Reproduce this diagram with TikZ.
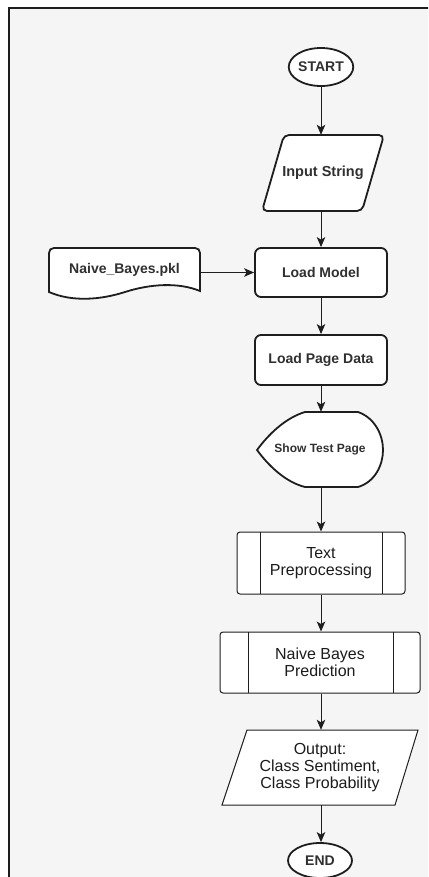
\documentclass[tikz,border=0pt]{standalone}
\usepackage{fontspec}
\setmainfont{Liberation Sans}
\usetikzlibrary{shapes.geometric,arrows.meta,calc}
\definecolor{ink}{HTML}{1E1E1E}
\definecolor{txt}{HTML}{303030}
\definecolor{txtdark}{HTML}{1C1C1C}
\definecolor{paper}{HTML}{F5F5F5}
\begin{document}
\begin{tikzpicture}[x=1pt,y=-1pt,
  heavy/.style={draw=ink, line width=1.8pt, fill=white},
  light/.style={draw=ink, line width=1pt, fill=white},
  lbl/.style={text=txt, font=\fontsize{14}{16.8}\selectfont\bfseries, align=center, inner sep=0pt},
  lbltwo/.style={text=txtdark, font=\fontsize{16}{17}\selectfont, align=center, inner sep=0pt},
  flow/.style={draw=ink, line width=1pt, -{Stealth[length=10pt,width=8.5pt,inset=2.5pt]}}]
\useasboundingbox (0,0) rectangle (428,877);
\clip (0,0) rectangle (428,877);
\fill[white] (0,0) rectangle (428,877);
% page frame
\draw[ink, line width=2pt, fill=paper] (9,8) rectangle (445,895);

% START terminator
\node[ellipse, heavy, lbl, minimum width=64pt, minimum height=38pt] (start) at (321,67) {START};

% Input String (data)
\draw[heavy, rounded corners=5pt] (334,135) -- (384,135) -- (362,211) -- (262,211) -- (284,135) -- cycle;
\node[lbl, font=\fontsize{14.5}{17}\selectfont\bfseries, minimum width=122pt, minimum height=76pt] (input) at (323,173) {Input String};

% stored model file (document)
\draw[heavy] (49,292) -- (49,253) .. controls (49,250) and (51,248) .. (54,248)
  -- (195,248) .. controls (198,248) and (200,250) .. (200,253) -- (200,291)
  .. controls (178,282) and (150,284) .. (125,292)
  .. controls (100,300) and (72,302) .. (49,292) -- cycle;
\node[lbl, minimum width=151pt, minimum height=44pt] (pkl) at (124.5,270) {Naive\_Bayes.pkl};

% process steps
\node[heavy, rounded corners=6pt, lbl, minimum width=132pt, minimum height=49pt] (model) at (321,272.5) {Load Model};
\node[heavy, rounded corners=6pt, lbl, minimum width=132pt, minimum height=50pt] (page) at (321,360) {Load Page Data};

% Show Test Page (display)
\draw[heavy] (305,412) -- (358,412)
  .. controls (375,418) and (383,435) .. (383,450)
  .. controls (383,465) and (375,482) .. (358,487)
  -- (305,487)
  .. controls (285,482) and (268,465) .. (257,450)
  .. controls (268,435) and (285,418) .. (305,412) -- cycle;
\node[lbl, font=\fontsize{12}{14}\selectfont\bfseries, minimum width=126pt, minimum height=75pt] (show) at (320,449.5) {Show Test Page};

% predefined processes
\node[light, rounded corners=3pt, lbltwo, minimum width=168pt, minimum height=62pt] (prep) at (321,563) {Text\\Preprocessing};
\draw[ink, line width=1pt] (260,532) -- (260,594) (382,532) -- (382,594);
\node[light, rounded corners=3pt, lbltwo, minimum width=200pt, minimum height=61pt] (pred) at (320,662.5) {Naive Bayes\\Prediction};
\draw[ink, line width=1pt] (248,632) -- (248,693) (393,632) -- (393,693);

% Output (data)
\draw[light] (247,730) -- (418,730) -- (395,805) -- (222,805) -- cycle;
\node[lbltwo, minimum width=196pt, minimum height=75pt] (out) at (320,767.5) {Output:\\Class Sentiment,\\Class Probability};

% END terminator
\node[ellipse, heavy, lbl, minimum width=64pt, minimum height=35pt] (end) at (320,860.5) {END};

% connectors
\draw[flow] (start.south) -- (start.south |- input.north);
\draw[flow] (model.north |- input.south) -- (model.north);
\draw[flow] (model.west -| pkl.east) -- (model.west);
\draw[flow] (model.south) -- (page.north);
\draw[flow] (page.south) -- (page.south |- show.north);
\draw[flow] (page.south |- show.south) -- (page.south |- prep.north);
\draw[flow] (prep.south) -- (prep.south |- pred.north);
\draw[flow] (prep.south |- pred.south) -- (prep.south |- out.north);
\draw[flow] (prep.south |- out.south) -- (prep.south |- end.north);
\end{tikzpicture}
\end{document}
